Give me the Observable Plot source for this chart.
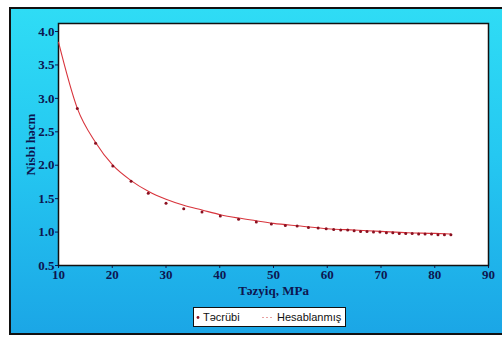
<!DOCTYPE html>
<html>
<head>
<meta charset="utf-8">
<script src="https://cdn.jsdelivr.net/npm/d3@7"></script>
<script src="https://cdn.jsdelivr.net/npm/@observablehq/plot@0.6"></script>
<style>
  html, body { margin: 0; padding: 0; background: #fff; width: 502px; height: 337px; overflow: hidden; }
  #panel { position: absolute; left: 9px; top: 7px; width: 500px; height: 324px;
    border-left: 2px solid #111; border-top: 2px solid #111; border-bottom: 2px solid #111;
    background: linear-gradient(to bottom, #2fdcf5 0%, #25c8f1 45%, #1ba6e6 100%); }
  #chart { position: absolute; left: 0; top: 0; }
  #legend { position: absolute; left: 193px; top: 307px; width: 153px; height: 20px;
    background: #fff; border: 1.5px solid #111; box-sizing: border-box;
    font-family: "Liberation Sans", Arial, sans-serif; font-size: 11px; color: #111; }
  #legend span { position: absolute; top: 2.5px; }
</style>
</head>
<body>
<div id="panel"></div>
<div id="chart"></div>
<div id="legend">
  <svg width="153" height="20" style="position:absolute;left:0;top:0">
    <circle cx="4" cy="9.5" r="1.4" fill="#8a1020"></circle>
    <line x1="68" y1="9.5" x2="79" y2="9.5" stroke="#e8a0a0" stroke-width="1" stroke-dasharray="2,2"></line>
  </svg>
  <span style="left:9px">Təcrübi</span>
  <span style="left:83px">Hesablanmış</span>
</div>
<script>
// Experimental points (Təcrübi)
const expPressure = [13.5, 16.9, 20.1, 23.5, 26.7, 30.0, 33.3, 36.7, 40.1, 43.5, 46.8, 49.6, 52.2, 54.4, 56.5,
  58.3, 59.8, 61.2, 62.5, 63.8, 65.0, 66.2, 67.4, 68.6, 69.8, 71.0, 72.2, 73.4, 74.6, 75.8, 77.0, 78.2, 79.4, 80.6, 81.8, 83.0];
const expVolume = [2.85, 2.33, 1.99, 1.76, 1.58, 1.43, 1.35, 1.30, 1.24, 1.19, 1.15, 1.12, 1.10, 1.09, 1.07,
  1.06, 1.05, 1.04, 1.03, 1.03, 1.02, 1.01, 1.01, 1.00, 1.00, 0.99, 0.99, 0.98, 0.98, 0.98, 0.97, 0.97, 0.97, 0.96, 0.96, 0.96];
// Calculated curve (Hesablanmış)
const calcPressure = [10, 13.5, 16.9, 20.1, 23.5, 26.7, 30, 33.3, 36.7, 40.1, 43.5, 46.8, 50, 55, 60, 65, 70, 75, 80, 83];
const calcVolume = [3.84, 2.85, 2.34, 2.00, 1.77, 1.61, 1.49, 1.40, 1.33, 1.26, 1.21, 1.17, 1.13, 1.09, 1.05, 1.03, 1.01, 0.99, 0.98, 0.97];
const xTicks = [10, 20, 30, 40, 50, 60, 70, 80, 90];
const yTicks = [0.5, 1.0, 1.5, 2.0, 2.5, 3.0, 3.5, 4.0];

const expData = expPressure.map((p, i) => ({p, v: expVolume[i]}));
const calcData = calcPressure.map((p, i) => ({p, v: calcVolume[i]}));

const chart = Plot.plot({
  width: 502,
  height: 300,
  marginLeft: 58,
  marginRight: 14,
  marginTop: 23,
  marginBottom: 35,
  style: { background: "transparent", fontFamily: "'Liberation Serif', 'Times New Roman', serif",
           fontWeight: "bold", fontSize: "13px", color: "#0d1650" },
  x: { domain: [10, 90], ticks: xTicks, tickSize: 3, tickPadding: 1,
       label: "Təzyiq, MPa", labelAnchor: "center", labelOffset: 29, labelArrow: "none" },
  y: { domain: [0.5, 4.12], ticks: yTicks, tickFormat: d3.format(".1f"), tickSize: 3, tickPadding: 1,
       label: "Nisbi həcm", labelAnchor: "center", labelOffset: 33, labelArrow: "none" },
  marks: [
    Plot.frame({ fill: "white", stroke: "#111", strokeWidth: 1.5 }),
    Plot.line(calcData, { x: "p", y: "v", stroke: "#d8343c", strokeWidth: 1.1, curve: "monotone-x" }),
    Plot.dot(expData, { x: "p", y: "v", r: 1.5, fill: "#8a1020", stroke: "none" })
  ]
});
document.getElementById("chart").appendChild(chart);
</script>
</body>
</html>
